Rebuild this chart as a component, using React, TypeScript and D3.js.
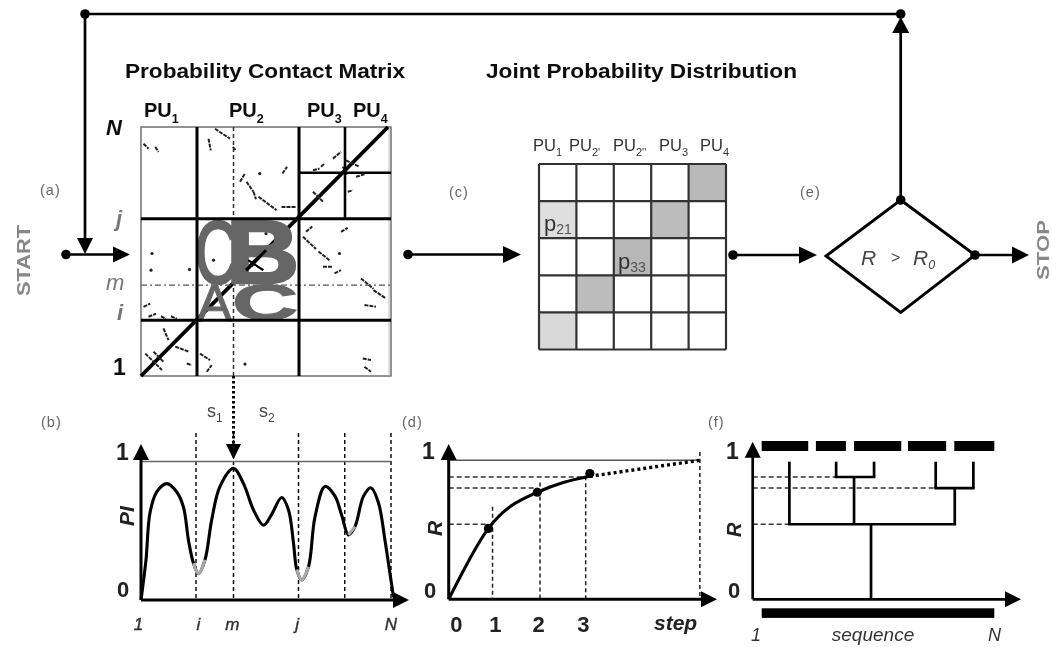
import React from "react";
import * as d3 from "d3";

// ---------- data ----------
const puBoundaries = [22.4, 63.2];
const pu34Boundary = 81.6;
const midRow = 36.5;
const midCol = 37;
const contacts = [
  [1,93.3,3,91.3],[5.7,92,7,90],[29.6,99.3,35.6,95.3],[27,95.3,27.9,90.6],[36.7,92,38,90.6],
  [39.6,78,41.6,81.3],[56.6,81.3,58.4,84],[42.2,78,45,74],[45,74,46,71],[47,72,54.2,66.6],[56.2,67.9,62.2,67.9],
  [76.8,87.3,80,90],[72,84,73.4,85.3],[68.8,82.6,71.4,83.3],[86,80,89.4,81],[82.7,74,84.7,74.6],
  [82,86.6,87.4,84],[68.8,74,72.8,70],[80.7,84,82.7,80.6],[66,57.9,68.5,60],[80,57.9,82.7,59.5],
  [64.8,55.9,70,51],[71,50,75.4,46.5],[77.4,41.2,80,42.5],[72.8,43.9,76.8,43.9],[88,39.2,93,35],[93,34.5,98,31.1],
  [89.4,28.5,94,27.8],[1,27.8,3.7,29.1],[3,23.8,6,25],[8,24,10,23],[12,24,14.3,23],
  [1.7,9,8.4,2.4],[5,9.8,9,5.7],[9,19.1,11,14.4],[13.7,11.8,19,9.8],[18.3,5,20.3,4.4],
  [26.3,1.7,28.3,4.4],[23.6,9,27.6,6.4],[88.7,7,92,6.4],[89.4,3.7,92,1.7],
  [42.9,46.5,48.9,42.5],[44.2,43.9,46.9,47.2],
];
const contactDots = [[4,42.5],[19.4,42.8],[4.4,49.2],[47.5,81.3],[41.6,4.8],[79.4,49.2],[50,57.2],[29,46.5]];

const plateauProfile: [number, number][] = [
  [0,0],[2,.29],[3.6,.63],[6.3,.78],[10.3,.84],[14.3,.78],[17,.67],[19,.43],[21,.265],[23,.19],[25.6,.29],[28.3,.58],
  [31.6,.82],[37,.95],[41,.84],[45,.65],[49,.54],[52,.61],[56.3,.74],[59,.65],[61,.41],[62.3,.22],[64.3,.145],[67,.24],
  [69.6,.6],[73.6,.82],[77.6,.75],[80.3,.61],[83,.47],[85.6,.53],[89,.75],[92,.81],[95,.70],[97.6,.43],[99.6,.19],[101,.02],
];
const profileMinima = [[20.5,25.6],[61.7,67],[80.8,85.6]];
const profileGuides = [22,37,63,81.5,100];
const profileXLabels: [string, number][] = [["1",-1],["i",23],["m",36.5],["j",62.5],["N",100]];

const rSolid: [number, number][] = [[0,0],[.87,.51],[1.34,.665],[1.94,.77],[2.51,.84],[3.09,.885]];
const rDotted: [number, number][] = [[3.09,.885],[5.5,1]];
const rMarkers: [number, number][] = [[.87,.51],[1.94,.77],[3.09,.905]];
const rLevels = [.54,.80,.88];
const rSteps = [.96,2,3,5.5];
const stepLabels: [string, number][] = [["0",.17],["1",1.02],["2",1.97],["3",2.95]];

const domains = [[0,20],[23.3,36.2],[39.7,60],[62.9,79.3],[82.8,100]];
const tree = [
  { x1: 11.9, x2: 83, level: .54 },
  { x1: 32, x2: 48.3, level: .88 },
  { x1: 74.8, x2: 91, level: .80 },
];
const stems = [
  { x: 11.9, y1: .54, y2: .99 },
  { x: 32, y1: .88, y2: .99 },
  { x: 48.3, y1: .88, y2: .99 },
  { x: 74.8, y1: .80, y2: .99 },
  { x: 91, y1: .80, y2: .99 },
  { x: 39.7, y1: .54, y2: .88 },
  { x: 83, y1: .54, y2: .80 },
  { x: 47, y1: 0, y2: .54 },
];

const jointRows = [0,1,2,3,4];
const jointCells: [number, number, string][] = [
  [4,0,"#b9b9b9"],[0,1,"#dedede"],[3,1,"#bcbcbc"],[2,2,"#b7b7b7"],[1,3,"#bcbcbc"],[0,4,"#d8d8d8"],
];

// ---------- scales ----------
const mx = d3.scaleLinear().domain([0,100]).range([141,391]);
const my = d3.scaleLinear().domain([0,100]).range([376,127]);
const bx = d3.scaleLinear().domain([0,100]).range([141,391]);
const by = d3.scaleLinear().domain([0,1]).range([600,461.5]);
const dx = d3.scaleLinear().domain([0,3]).range([448.7,585.7]);
const ry = d3.scaleLinear().domain([0,1]).range([599.3,460.3]);
const fx = d3.scaleLinear().domain([0,100]).range([761.7,994.3]);
const jx = d3.scaleBand<number>().domain(jointRows).range([539,726]);
const jy = d3.scaleBand<number>().domain(jointRows).range([164,349.5]);

const profileLine = d3.line<[number, number]>().x(d => bx(d[0])).y(d => by(d[1])).curve(d3.curveCatmullRom.alpha(.5));
const rLine = d3.line<[number, number]>().x(d => dx(d[0])).y(d => ry(d[1])).curve(d3.curveCatmullRom.alpha(.5));

const FONT = "'Liberation Sans', Arial, sans-serif";

const tri = (x: number, y: number, dir: "r" | "u" | "d", len = 17, half = 8) => {
  const p = d3.path();
  if (dir === "r") { p.moveTo(x, y); p.lineTo(x - len, y - half); p.lineTo(x - len, y + half); }
  if (dir === "u") { p.moveTo(x, y); p.lineTo(x - half, y + len); p.lineTo(x + half, y + len); }
  if (dir === "d") { p.moveTo(x, y); p.lineTo(x - half, y - len); p.lineTo(x + half, y - len); }
  p.closePath();
  return p.toString();
};

const L = (p: any) => <line stroke="#000" strokeWidth={2.7} {...p} />;
const Dot = ({ x, y, r = 4.8 }: any) => <circle cx={x} cy={y} r={r} fill="#000" />;
const T = ({ children, ...p }: any) => <text fontFamily={FONT} {...p}>{children}</text>;
const Sub = ({ children, size }: any) => <tspan dy={size * .45} fontSize={size}>{children}</tspan>;

const Letter = ({ ch, x, y, w, h, weight = "bold", sw = 1 }: any) => (
  <text transform={`translate(${x},${y}) scale(${w / 72},${h / 69})`} fontFamily={FONT} fontWeight={weight}
    fontSize={100} fill="#666" stroke="#666" strokeWidth={sw}>{ch}</text>
);

const PUTop = ({ x, n }: any) => (
  <T x={x} y={117} fontSize={20} fontWeight="bold" fill="#111">PU<Sub size={12.5}>{n}</Sub></T>
);

export default function App() {
  const labelSmall = { fontSize: 14.5, fill: "#666", letterSpacing: 1 };
  const sw = 1.5;
  return (
    <svg width={1052} height={647} viewBox="0 0 1052 647" style={{ position: "absolute", left: 0, top: 0, background: "#fff" }}>
      <defs>
        <filter id="soft" x="0" y="0" width="100%" height="100%">
          <feGaussianBlur stdDeviation="0.55" />
        </filter>
      </defs>
      <g filter="url(#soft)">
        {/* flow */}
        <L x1={85} y1={14} x2={900.7} y2={14} />
        <L x1={85} y1={14} x2={85} y2={240} />
        <Dot x={85} y={14} />
        <Dot x={900.7} y={14} />
        <path d={tri(85, 254, "d", 16, 8)} />
        <L x1={66} y1={254.5} x2={115} y2={254.5} />
        <Dot x={66} y={254.5} />
        <path d={tri(130, 254.5, "r", 17, 8)} />
        <L x1={408} y1={254.5} x2={505} y2={254.5} />
        <Dot x={408} y={254.5} />
        <path d={tri(521, 254.5, "r", 18, 8.5)} />
        <L x1={733} y1={255} x2={802} y2={255} />
        <Dot x={733} y={255} />
        <path d={tri(817, 255, "r", 18, 8.5)} />
        <L x1={975} y1={255} x2={1014} y2={255} />
        <Dot x={975} y={255} />
        <path d={tri(1029, 255, "r", 17, 8.5)} />
        <L x1={900.7} y1={30} x2={900.7} y2={200} />
        <path d={tri(900.7, 17, "u", 16, 8.5)} />
        <Dot x={900.7} y={200} />
        <path d="M900.7,200 L975,255 L900.7,312.5 L826,256 Z" fill="none" stroke="#000" strokeWidth={2.9} />

        <T x={861} y={265} fontSize={21} fontStyle="italic" fill="#444">R</T>
        <T x={891} y={263} fontSize={16} fill="#444">&gt;</T>
        <T x={913} y={265} fontSize={21} fontStyle="italic" fill="#444">R<tspan dy={4} fontSize={12.5}>0</tspan></T>

        <T transform="translate(30,296) rotate(-90)" fontSize={19} fontWeight="bold" fill="#888" textLength={71} lengthAdjust="spacingAndGlyphs">START</T>
        <T transform="translate(1049,280) rotate(-90)" fontSize={17} fontWeight="bold" fill="#888" textLength={60} lengthAdjust="spacingAndGlyphs">STOP</T>

        <T x={40} y={195} {...labelSmall}>(a)</T>
        <T x={41} y={427} {...labelSmall}>(b)</T>
        <T x={449} y={197} {...labelSmall}>(c)</T>
        <T x={402} y={427} {...labelSmall}>(d)</T>
        <T x={800} y={197} {...labelSmall}>(e)</T>
        <T x={708} y={427} {...labelSmall}>(f)</T>

        <T x={125} y={78} fontSize={20} fontWeight="bold" fill="#111" textLength={280} lengthAdjust="spacingAndGlyphs">Probability Contact Matrix</T>
        <T x={486} y={78} fontSize={20} fontWeight="bold" fill="#111" textLength={311} lengthAdjust="spacingAndGlyphs">Joint Probability Distribution</T>

        {/* contact matrix */}
        <PUTop x={144} n="1" />
        <PUTop x={229} n="2" />
        <PUTop x={307} n="3" />
        <PUTop x={353} n="4" />
        <T x={106} y={135} fontSize={22} fontWeight="bold" fontStyle="italic" fill="#111">N</T>
        <T x={116} y={226} fontSize={22} fontWeight="bold" fontStyle="italic" fill="#777">j</T>
        <T x={106} y={290} fontSize={22} fontStyle="italic" fill="#777">m</T>
        <T x={117} y={320} fontSize={22} fontWeight="bold" fontStyle="italic" fill="#777">i</T>
        <T x={113} y={375} fontSize={23} fontWeight="bold" fill="#111">1</T>

        <rect x={mx(0)} y={my(100)} width={mx(100) - mx(0)} height={my(0) - my(100)} fill="#fff" stroke="#666" strokeWidth={1.4} />
        <line x1={mx(99.2)} x2={mx(99.2)} y1={my(100)} y2={my(0)} stroke="#bbb" strokeWidth={1} />
        <line x1={mx(0)} y1={my(0)} x2={mx(98.8)} y2={my(100)} stroke="#000" strokeWidth={3.8} />
        {contacts.map((c, i) => (
          <line key={i} x1={mx(c[0])} y1={my(c[1])} x2={mx(c[2])} y2={my(c[3])} stroke="#222" strokeWidth={2} strokeDasharray="4 1" />
        ))}
        {contactDots.map((c, i) => <circle key={i} cx={mx(c[0])} cy={my(c[1])} r={1.6} fill="#222" />)}

        <line x1={mx(0)} x2={mx(100)} y1={my(midRow)} y2={my(midRow)} stroke="#555" strokeWidth={1.2} strokeDasharray="6 3 2 3" />
        <line x1={mx(midCol)} x2={mx(midCol)} y1={my(100)} y2={my(0)} stroke="#333" strokeWidth={1.5} strokeDasharray="4 3" />

        <Letter ch="C" x={195} y={283} w={43} h={62} weight="normal" sw={3} />
        <Letter ch="B" x={226} y={283} w={73} h={62} weight="bold" sw={3} />
        <Letter ch="A" x={197} y={321} w={38} h={36} weight="normal" sw={1.5} />
        <Letter ch="C" x={232} y={320} w={66} h={34} weight="bold" sw={2} />
        <line x1={mx(42)} y1={my(42.4)} x2={mx(50)} y2={my(50.5)} stroke="#000" strokeWidth={3} />
        <line x1={mx(42.9)} y1={my(46.5)} x2={mx(48.9)} y2={my(42.5)} stroke="#000" strokeWidth={2} />

        {puBoundaries.map(b => (
          <g key={b}>
            <line x1={mx(b)} x2={mx(b)} y1={my(100)} y2={my(0)} stroke="#000" strokeWidth={3} />
            <line x1={mx(0)} x2={mx(100)} y1={my(b)} y2={my(b)} stroke="#000" strokeWidth={3} />
          </g>
        ))}
        <line x1={mx(pu34Boundary)} x2={mx(pu34Boundary)} y1={my(100)} y2={my(puBoundaries[1])} stroke="#000" strokeWidth={2.6} />
        <line x1={mx(puBoundaries[1])} x2={mx(100)} y1={my(pu34Boundary)} y2={my(pu34Boundary)} stroke="#000" strokeWidth={2.6} />

        {/* link from the matrix to the profile */}
        <line x1={mx(midCol)} x2={mx(midCol)} y1={my(0)} y2={446} stroke="#000" strokeWidth={3} strokeDasharray="2.5 2.5" />
        <path d={tri(mx(midCol), 459.5, "d", 15.5, 7.5)} />
        <T x={207} y={417} fontSize={18} fill="#444">s<Sub size={12}>1</Sub></T>
        <T x={259} y={417} fontSize={18} fill="#444">s<Sub size={12}>2</Sub></T>

        {/* joint distribution */}
        {jointCells.map(([c, r, f], i) => (
          <rect key={i} x={jx(c)} y={jy(r)} width={jx.bandwidth()} height={jy.bandwidth()} fill={f} />
        ))}
        {jointRows.concat(5).map(i => {
          const xp = 539 + i * jx.bandwidth();
          const yp = 164 + i * jy.bandwidth();
          return (
            <g key={i} stroke="#333" strokeWidth={2.2}>
              <line x1={xp} x2={xp} y1={164} y2={349.5} />
              <line x1={539} x2={726} y1={yp} y2={yp} />
            </g>
          );
        })}
        <T x={533} y={151} fontSize={16.5} fill="#333">PU<Sub size={11}>1</Sub></T>
        <T x={569} y={151} fontSize={16.5} fill="#333">PU<Sub size={11}>2'</Sub></T>
        <T x={613} y={151} fontSize={16.5} fill="#333">PU<Sub size={11}>2''</Sub></T>
        <T x={659} y={151} fontSize={16.5} fill="#333">PU<Sub size={11}>3</Sub></T>
        <T x={700} y={151} fontSize={16.5} fill="#333">PU<Sub size={11}>4</Sub></T>
        <T x={544} y={231} fontSize={22} fill="#333">p<tspan dy={3} fontSize={14} fill="#555">21</tspan></T>
        <T x={618} y={269} fontSize={22} fill="#333">p<tspan dy={3} fontSize={14} fill="#555">33</tspan></T>

        {/* panel b */}
        {profileGuides.map(g => (
          <line key={g} x1={bx(g)} x2={bx(g)} y1={433} y2={by(0)} stroke="#111" strokeWidth={sw} strokeDasharray="4 3" />
        ))}
        <line x1={bx(0)} x2={bx(100)} y1={by(1)} y2={by(1)} stroke="#666" strokeWidth={1.6} />
        <path d={profileLine(plateauProfile) || ""} fill="none" stroke="#000" strokeWidth={3.1} />
        {profileMinima.map(([a, b], i) => (
          <path key={i} d={profileLine(plateauProfile.filter(p => p[0] >= a && p[0] <= b)) || ""} fill="none" stroke="#aaa" strokeWidth={3.1} />
        ))}
        <L x1={bx(0)} x2={bx(0)} y1={460} y2={by(0)} strokeWidth={3} />
        <L x1={bx(0)} x2={396} y1={by(0)} y2={by(0)} strokeWidth={3} />
        <path d={tri(bx(0), 444, "u", 16, 8)} />
        <path d={tri(409, by(0), "r", 16, 8)} />
        <T x={116} y={460} fontSize={23} fontWeight="bold" fill="#222">1</T>
        <T x={117} y={597} fontSize={22} fontWeight="bold" fill="#222">0</T>
        <T transform="translate(134,526) rotate(-90)" fontSize={21} fontWeight="bold" fontStyle="italic" fill="#222">PI</T>
        {profileXLabels.map(([s, v]) => (
          <T key={s} x={bx(v)} y={630} fontSize={17} fontStyle="italic" stroke="#333" strokeWidth={0.4} textAnchor="middle" fill="#333">{s}</T>
        ))}

        {/* panel d */}
        {rSteps.map(s => (
          <line key={s} x1={dx(s)} x2={dx(s)} y1={s > 4 ? 452 : ry(rSolid.find(p => p[0] >= s)?.[1] ?? 1)} y2={ry(0)} stroke="#222" strokeWidth={sw} strokeDasharray="4 3" />
        ))}
        {rLevels.map((l, i) => (
          <line key={l} x1={dx(0)} x2={dx([.87, 1.94, 3][i])} y1={ry(l)} y2={ry(l)} stroke="#333" strokeWidth={sw} strokeDasharray="5 3" />
        ))}
        <line x1={dx(0)} x2={dx(5.5)} y1={ry(1)} y2={ry(1)} stroke="#555" strokeWidth={1.6} />
        <path d={rLine(rSolid) || ""} fill="none" stroke="#000" strokeWidth={3.1} />
        <path d={rLine(rDotted) || ""} fill="none" stroke="#000" strokeWidth={3.4} strokeDasharray="3 3" />
        {rMarkers.map(([s, r]) => <circle key={s} cx={dx(s)} cy={ry(r)} r={4.6} fill="#000" />)}
        <L x1={dx(0)} x2={dx(0)} y1={459} y2={ry(0)} strokeWidth={3} />
        <L x1={dx(0)} x2={705} y1={ry(0)} y2={ry(0)} strokeWidth={3} />
        <path d={tri(dx(0), 444, "u", 16, 8)} />
        <path d={tri(717, ry(0), "r", 16, 8)} />
        <T x={422} y={459} fontSize={23} fontWeight="bold" fill="#222">1</T>
        <T x={424} y={598} fontSize={22} fontWeight="bold" fill="#222">0</T>
        <T transform="translate(442,536) rotate(-90)" fontSize={21} fontWeight="bold" fontStyle="italic" fill="#222">R</T>
        {stepLabels.map(([s, v]) => (
          <T key={s} x={dx(v)} y={632} fontSize={22} fontWeight="bold" textAnchor="middle" fill="#222">{s}</T>
        ))}
        <T x={654} y={630} fontSize={21} fontWeight="bold" fontStyle="italic" fill="#222">step</T>

        {/* panel f */}
        {domains.map(([a, b]) => (
          <rect key={a} x={fx(a)} y={441} width={fx(b) - fx(a)} height={10} fill="#000" />
        ))}
        <rect x={fx(0)} y={608.3} width={fx(100) - fx(0)} height={9.6} fill="#000" />
        {[[.54, 11.9], [.88, 32], [.80, 74.8]].map(([l, e]) => (
          <line key={l} x1={752.7} x2={fx(e)} y1={ry(l)} y2={ry(l)} stroke="#333" strokeWidth={sw} strokeDasharray="5 3" />
        ))}
        {tree.map((t, i) => (
          <line key={i} x1={fx(t.x1)} x2={fx(t.x2)} y1={ry(t.level)} y2={ry(t.level)} stroke="#000" strokeWidth={2.7} strokeLinecap="square" />
        ))}
        {stems.map((s, i) => (
          <line key={i} x1={fx(s.x)} x2={fx(s.x)} y1={ry(s.y1)} y2={ry(s.y2)} stroke="#000" strokeWidth={2.7} />
        ))}
        <L x1={752.7} x2={752.7} y1={455} y2={ry(0)} />
        <L x1={752.7} x2={1008} y1={ry(0)} y2={ry(0)} />
        <path d={tri(752.7, 441.7, "u", 16, 8)} />
        <path d={tri(1021, ry(0), "r", 16, 8)} />
        <T x={726} y={459} fontSize={23} fontWeight="bold" fill="#222">1</T>
        <T x={728} y={598} fontSize={22} fontWeight="bold" fill="#222">0</T>
        <T transform="translate(741,537) rotate(-90)" fontSize={20} fontWeight="bold" fontStyle="italic" fill="#222">R</T>
        <T x={751} y={641} fontSize={18} fontStyle="italic" fill="#333">1</T>
        <T x={873} y={641} fontSize={19} fontStyle="italic" textAnchor="middle" fill="#333">sequence</T>
        <T x={988} y={641} fontSize={18} fontStyle="italic" fill="#333">N</T>
      </g>
    </svg>
  );
}
